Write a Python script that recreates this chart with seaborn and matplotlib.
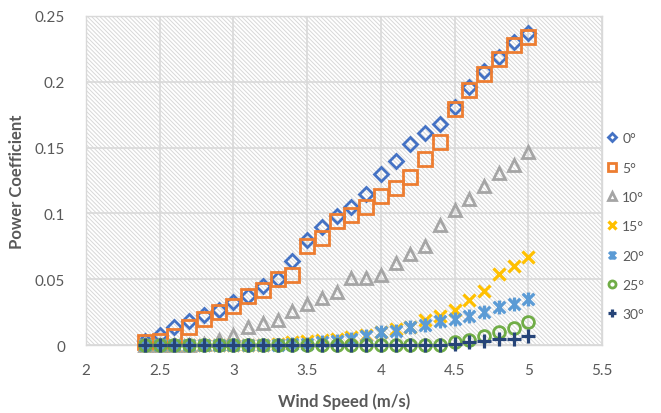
import matplotlib
matplotlib.use('Agg')
import matplotlib.pyplot as plt
import seaborn as sns
import pandas as pd
from matplotlib.patches import Rectangle
from matplotlib.path import Path
from matplotlib.ticker import FuncFormatter

# wind speed (m/s)
speeds = [2.4, 2.5, 2.6, 2.7, 2.8, 2.9, 3.0, 3.1, 3.2, 3.3, 3.4, 3.5, 3.6, 3.7,
          3.8, 3.9, 4.0, 4.1, 4.2, 4.3, 4.4, 4.5, 4.6, 4.7, 4.8, 4.9, 5.0]

# power coefficient per pitch angle
cp_0 = [0.003, 0.008, 0.014, 0.018, 0.023, 0.027, 0.033, 0.037, 0.045, 0.050, 0.064, 0.080, 0.090, 0.098,
        0.105, 0.115, 0.130, 0.140, 0.153, 0.161, 0.168, 0.181, 0.196, 0.208, 0.219, 0.230, 0.237]
cp_5 = [0.002, 0.003, 0.007, 0.014, 0.020, 0.025, 0.030, 0.037, 0.042, 0.050, 0.053, 0.075, 0.081, 0.094,
        0.099, 0.105, 0.113, 0.119, 0.128, 0.141, 0.154, 0.179, 0.194, 0.206, 0.217, 0.228, 0.234]
cp_10 = [0.0, 0.0, 0.0, 0.0, 0.001, 0.004, 0.008, 0.014, 0.017, 0.019, 0.026, 0.031, 0.036, 0.040,
         0.051, 0.051, 0.053, 0.062, 0.069, 0.075, 0.091, 0.103, 0.111, 0.121, 0.131, 0.137, 0.147]
cp_15 = [0.0, 0.0, 0.0, 0.0, 0.0, 0.0, 0.0, 0.0, 0.0, 0.001, 0.002, 0.003, 0.004, 0.005,
         0.006, 0.008, 0.010, 0.012, 0.014, 0.019, 0.022, 0.027, 0.034, 0.041, 0.054, 0.060, 0.067]
cp_20 = [0.0, 0.0, 0.0, 0.0, 0.0, 0.0, 0.0, 0.0, 0.0, 0.0, 0.001, 0.001, 0.002, 0.003,
         0.005, 0.007, 0.010, 0.011, 0.014, 0.015, 0.018, 0.020, 0.022, 0.025, 0.029, 0.031, 0.035]
cp_25 = [0.0, 0.0, 0.0, 0.0, 0.0, 0.0, 0.0, 0.0, 0.0, 0.0, 0.0, 0.0, 0.0, 0.0,
         0.0, 0.0, 0.0, 0.0, 0.0, 0.0, 0.0, 0.002, 0.004, 0.007, 0.010, 0.013, 0.0175]
cp_30 = [0.0, 0.0, 0.0, 0.0, 0.0, 0.0, 0.0, 0.0, 0.0, 0.0, 0.0, 0.0, 0.0, 0.0,
         0.0, 0.0, 0.0, 0.0, 0.0, 0.0, 0.0, 0.001, 0.002, 0.003, 0.005, 0.005, 0.007]

labels = ['0°', '5°', '10°', '15°', '20°', '25°', '30°']
colors = ['#4472C4', '#ED7D31', '#A5A5A5', '#FFC000', '#5B9BD5', '#70AD47', '#264478']

# excel style "star" marker: an X with a vertical bar
star = Path([(-1, -1), (1, 1), (-1, 1), (1, -1), (0, -1.2), (0, 1.2)],
            [Path.MOVETO, Path.LINETO, Path.MOVETO, Path.LINETO, Path.MOVETO, Path.LINETO])

markers = ['D', 's', '^', 'x', star, 'o', '+']
sizes = [7, 10, 9, 9, 10, 8.5, 9.5]

sns.set_style('white')
plt.rcParams['font.family'] = ['Lato', 'DejaVu Sans']
plt.rcParams['hatch.linewidth'] = 0.7

fig = plt.figure(figsize=(6.61, 4.14), dpi=100)
ax = fig.add_axes([0.130, 0.164, 0.781, 0.795])

ax.add_patch(Rectangle((0, 0), 1, 1, transform=ax.transAxes, facecolor='white',
                       edgecolor='#d8d8d8', linewidth=0, hatch='\\' * 8, zorder=0))

series = [cp_0, cp_5, cp_10, cp_15, cp_20, cp_25, cp_30]
for vals, lab, col, mk, ms in zip(series, labels, colors, markers, sizes):
    df = pd.DataFrame({'speed': speeds, 'cp': vals})
    filled = mk in ('D', 's', '^', 'o')
    sns.lineplot(data=df, x='speed', y='cp', ax=ax, linestyle='', marker=mk,
                 markersize=ms, markeredgewidth=2.0 if filled else 2.3,
                 markerfacecolor='none' if filled else col, markeredgecolor=col,
                 color=col, label=lab, clip_on=False, zorder=3)

ax.set_xlim(2, 5.5)
ax.set_ylim(0, 0.25)
ax.set_xticks([2, 2.5, 3, 3.5, 4, 4.5, 5, 5.5])
ax.set_yticks([0, 0.05, 0.1, 0.15, 0.2, 0.25])
fmt = FuncFormatter(lambda v, p: '{:g}'.format(round(v, 3)))
ax.xaxis.set_major_formatter(fmt)
ax.yaxis.set_major_formatter(fmt)
ax.grid(True, color='#d9d9d9', linewidth=1.2)
ax.set_axisbelow(True)
ax.tick_params(length=0, labelsize=11, labelcolor='#595959')
ax.tick_params(axis='x', pad=13)
ax.tick_params(axis='y', pad=15)
for s in ax.spines.values():
    s.set_color('#d9d9d9')
    s.set_linewidth(1.0)

ax.set_xlabel('Wind Speed (m/s)', fontsize=12, fontweight='bold', color='#595959', labelpad=11)
ax.set_ylabel('Power Coefficient', fontsize=12, fontweight='bold', color='#595959', labelpad=7)

ax.legend(loc='upper left', bbox_to_anchor=(0.985, 0.685), frameon=False, fontsize=10,
          labelcolor='#595959', markerscale=0.6, labelspacing=1.25, handlelength=0.8,
          handletextpad=0.3)

fig.savefig('out.png', dpi=100)
